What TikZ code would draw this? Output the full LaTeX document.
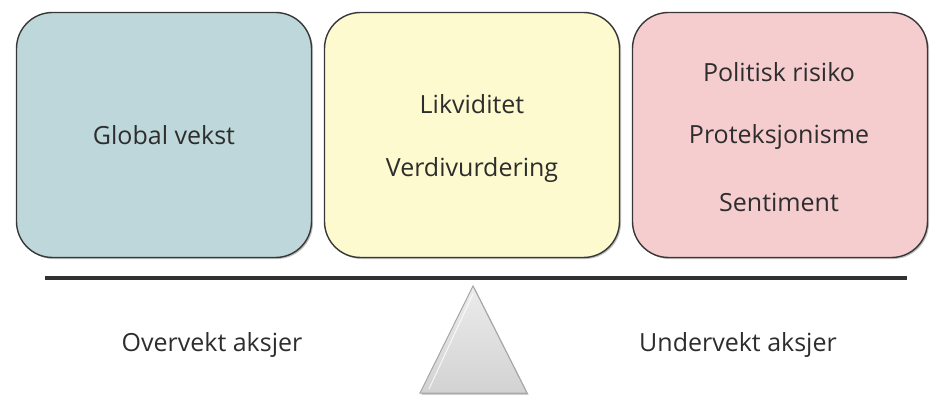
\documentclass[tikz,border=0pt]{standalone}
\usepackage{fontspec}
\setmainfont{Open Sans}
\usetikzlibrary{shadows,calc}
\definecolor{bluebox}{RGB}{190,215,218}
\definecolor{yellowbox}{RGB}{252,250,206}
\definecolor{redbox}{RGB}{246,205,207}
\definecolor{edge}{RGB}{55,55,55}
\definecolor{txt}{RGB}{45,45,45}
\tikzset{
  panel/.style={draw=edge, line width=1.4pt, rounded corners=36pt, minimum width=295pt, minimum height=245pt,
    drop shadow={shadow xshift=1.5pt, shadow yshift=-1.5pt, opacity=0.5}},
  lbl/.style={font=\fontsize{25}{29}\selectfont, text=txt, inner sep=0pt}
}
\begin{document}
\begin{tikzpicture}[x=1pt,y=-1pt]
\useasboundingbox (0,0) rectangle (938,401);
\node[panel, fill=bluebox] (left) at (164,135) {};
\node[panel, fill=yellowbox] (mid) at (472,135) {};
\node[panel, fill=redbox] (right) at (780,135) {};
\node[lbl] (gv) at (164,135) {Global vekst};
\node[lbl] (lik) at (472,104) {Likviditet};
\node[lbl] (ver) at (472,170) {Verdivurdering};
\node[lbl] (pol) at (779,72) {Politisk risiko};
\node[lbl] (pro) at (779,137) {Proteksjonisme};
\node[lbl] (sen) at (779,202) {Sentiment};
\coordinate (beamL) at (45,278);
\coordinate (beamR) at (907,278);
\draw[line width=4pt, draw=edge!90!black] (beamL) -- (beamR);
\coordinate (apex) at (473,286);
\coordinate (bl) at (420,393);
\coordinate (br) at (527,393);
\fill[black, opacity=0.3] ($(apex)+(1.5,1.5)$) -- ($(br)+(1.5,1.5)$) -- ($(bl)+(1.5,1.5)$) -- cycle;
\shade[top color=gray!15, bottom color=gray!35, draw=gray!70, line width=1pt] (apex) -- (br) -- (bl) -- cycle;
\draw[white, line width=1pt, opacity=0.8] ($(apex)+(0,8)$) -- ($(bl)+(9,-4)$);
\node[lbl] (over) at (212,345) {Overvekt aksjer};
\node[lbl] (under) at (738,345) {Undervekt aksjer};
\end{tikzpicture}
\end{document}
